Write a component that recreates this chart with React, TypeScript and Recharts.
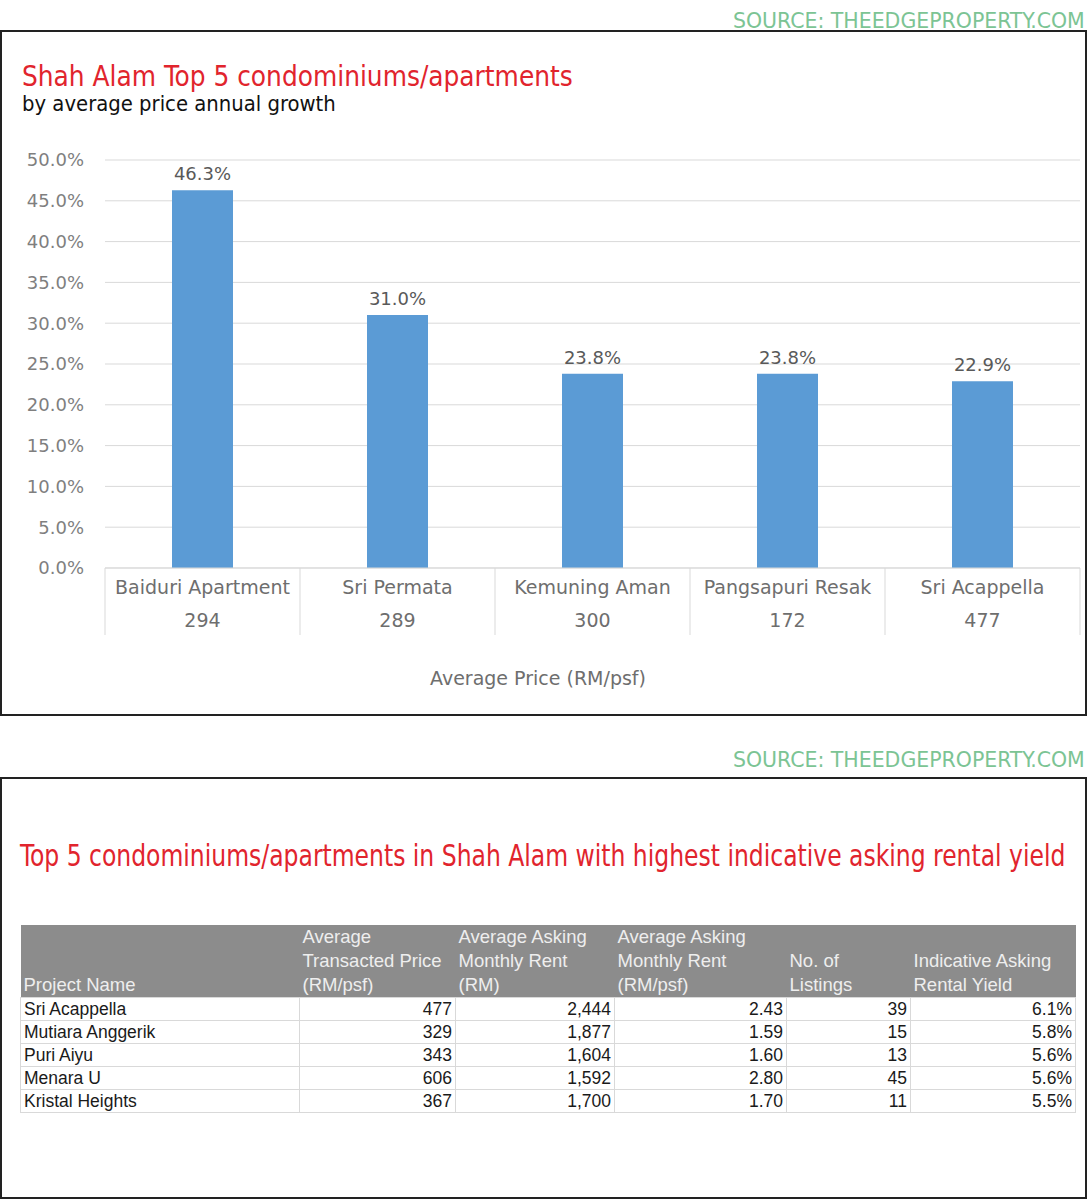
import React, { useLayoutEffect, useRef, useState } from 'react';
import {
  BarChart,
  Bar,
  XAxis,
  YAxis,
  CartesianGrid,
  LabelList,
} from 'recharts';

// chart data
const projects = ['Baiduri Apartment', 'Sri Permata', 'Kemuning Aman', 'Pangsapuri Resak', 'Sri Acappella'];
const avgPrice = [294, 289, 300, 172, 477];
const growth = [46.3, 31.0, 23.8, 23.8, 22.9];
const yTicks = [0, 5, 10, 15, 20, 25, 30, 35, 40, 45, 50];

// table data
const rentalProjects = ['Sri Acappella', 'Mutiara Anggerik', 'Puri Aiyu', 'Menara U', 'Kristal Heights'];
const transactedPsf = [477, 329, 343, 606, 367];
const askingRent = [2444, 1877, 1604, 1592, 1700];
const askingRentPsf = [2.43, 1.59, 1.6, 2.8, 1.7];
const listings = [39, 15, 13, 45, 11];
const rentalYield = [6.1, 5.8, 5.6, 5.6, 5.5];

const headers = [
  ['Project Name'],
  ['Average', 'Transacted Price', '(RM/psf)'],
  ['Average Asking', 'Monthly Rent', '(RM)'],
  ['Average Asking', 'Monthly Rent', '(RM/psf)'],
  ['No. of', 'Listings'],
  ['Indicative Asking', 'Rental Yield'],
];
const colWidths = [279, 156, 159, 172, 124, 165];

const CHART_W = 1089;
const CHART_H = 540;
const MARGIN = { top: 20, right: 9, bottom: 0, left: 0 };
const Y_AXIS_W = 105;

const chartData = projects.map((name, i) => ({ name, price: avgPrice[i], growth: growth[i] }));

const SOURCE = 'SOURCE: THEEDGEPROPERTY.COM';
const GREEN = '#7cc494';
const RED = '#e1242d';

function CategoryTick(props: any) {
  const { x, y, payload } = props;
  const fallback = (CHART_W - MARGIN.left - MARGIN.right - Y_AXIS_W) / projects.length / 2;
  const half = payload.offset || fallback;
  const idx = payload.index;
  const last = idx === projects.length - 1;
  return (
    <g>
      <line x1={x - half} x2={x - half} y1={y} y2={y + 67} stroke="#d9d9d9" />
      {last && <line x1={x + half} x2={x + half} y1={y} y2={y + 67} stroke="#d9d9d9" />}
      <text x={x} y={y + 26} textAnchor="middle" fill="#6e6e6e" fontSize={19} fontFamily="DejaVu Sans">
        {payload.value}
      </text>
      <text x={x} y={y + 59} textAnchor="middle" fill="#6e6e6e" fontSize={19} fontFamily="DejaVu Sans">
        {avgPrice[idx]}
      </text>
    </g>
  );
}

// condensed heading text, stretched horizontally to the width it has in the picture
function FitText({ x, y, w, size, color, text }: any) {
  const ref = useRef<SVGTextElement>(null);
  const [sx, setSx] = useState(1);
  useLayoutEffect(() => {
    const el = ref.current;
    if (el) {
      const n = el.getComputedTextLength();
      if (n > 0) setSx(w / n);
    }
  }, [w, text, size]);
  return (
    <text
      ref={ref}
      transform={`translate(${x},${y}) scale(${sx},1)`}
      fontSize={size}
      fill={color}
      fontFamily="'DejaVu Sans Condensed', 'Liberation Sans Narrow', 'Noto Sans', sans-serif"
    >
      {text}
    </text>
  );
}

export default function App() {
  const cellBase: React.CSSProperties = {
    border: '1px solid #d9d9d9',
    padding: '0 3px',
    height: 22,
    lineHeight: '22px',
    whiteSpace: 'nowrap',
  };

  return (
    <div
      style={{
        position: 'absolute',
        left: 0,
        top: 0,
        width: 1089,
        height: 1200,
        background: '#fff',
        fontFamily: "'Liberation Sans', Arial, sans-serif",
      }}
    >
      {/* boxes */}
      <div
        style={{
          position: 'absolute',
          left: 0,
          top: 30,
          width: 1087,
          height: 686,
          border: '2px solid #222',
          boxSizing: 'border-box',
        }}
      />
      <div
        style={{
          position: 'absolute',
          left: 0,
          top: 777,
          width: 1087,
          height: 422,
          border: '2px solid #222',
          boxSizing: 'border-box',
        }}
      />

      {/* headings */}
      <svg width={1089} height={1200} style={{ position: 'absolute', left: 0, top: 0, pointerEvents: 'none' }}>
        <FitText x={733} y={28} w={352} size={22} color={GREEN} text={SOURCE} />
        <FitText x={22} y={86} w={551} size={29} color={RED} text="Shah Alam Top 5 condominiums/apartments" />
        <FitText x={22} y={111} w={314} size={21} color="#111" text="by average price annual growth" />
        <text x={538} y={685} textAnchor="middle" fill="#6e6e6e" fontSize={19} fontFamily="DejaVu Sans">
          Average Price (RM/psf)
        </text>
        <FitText x={733} y={767} w={352} size={22} color={GREEN} text={SOURCE} />
        <FitText
          x={20}
          y={866}
          w={1046}
          size={30}
          color={RED}
          text="Top 5 condominiums/apartments in Shah Alam with highest indicative asking rental yield"
        />
      </svg>

      {/* bar chart */}
      <div style={{ position: 'absolute', left: 0, top: 140 }}>
        <BarChart width={CHART_W} height={CHART_H} data={chartData} margin={MARGIN}>
          <CartesianGrid vertical={false} stroke="#d9d9d9" />
          <XAxis
            dataKey="name"
            height={CHART_H - MARGIN.top - 408}
            axisLine={{ stroke: '#d9d9d9' }}
            tickLine={false}
            tickSize={0}
            tickMargin={0}
            interval={0}
            tick={<CategoryTick />}
          />
          <YAxis
            width={Y_AXIS_W}
            domain={[0, 50]}
            ticks={yTicks}
            axisLine={false}
            tickLine={false}
            tickMargin={15}
            tickFormatter={(v: number) => `${v.toFixed(1)}%`}
            tick={{ fill: '#7f7f7f', fontSize: 18, fontFamily: 'DejaVu Sans' }}
          />
          <Bar dataKey="growth" fill="#5b9bd5" barSize={61} isAnimationActive={false}>
            <LabelList
              dataKey="growth"
              position="top"
              offset={10}
              formatter={(v: any) => `${Number(v).toFixed(1)}%`}
              fill="#595959"
              fontSize={18}
              fontFamily="DejaVu Sans"
            />
          </Bar>
        </BarChart>
      </div>

      {/* rental yield table */}
      <table
        style={{
          position: 'absolute',
          left: 20,
          top: 925,
          width: 1055,
          borderCollapse: 'collapse',
          tableLayout: 'fixed',
          fontSize: 17.5,
          color: '#1a1a1a',
        }}
      >
        <colgroup>
          {colWidths.map((w, i) => (
            <col key={i} style={{ width: w }} />
          ))}
        </colgroup>
        <thead>
          <tr>
            {headers.map((lines, i) => (
              <th
                key={i}
                style={{
                  background: '#8c8c8c',
                  color: '#eeeeee',
                  fontWeight: 'normal',
                  fontSize: 18.5,
                  lineHeight: '24px',
                  height: 72,
                  verticalAlign: 'bottom',
                  textAlign: 'left',
                  padding: '0 3px',
                  whiteSpace: 'nowrap',
                }}
              >
                {lines.map((l, j) => (
                  <div key={j}>{l}</div>
                ))}
              </th>
            ))}
          </tr>
        </thead>
        <tbody>
          {rentalProjects.map((p, i) => (
            <tr key={p}>
              <td style={{ ...cellBase, textAlign: 'left' }}>{p}</td>
              <td style={{ ...cellBase, textAlign: 'right' }}>{transactedPsf[i]}</td>
              <td style={{ ...cellBase, textAlign: 'right' }}>{askingRent[i].toLocaleString('en-US')}</td>
              <td style={{ ...cellBase, textAlign: 'right' }}>{askingRentPsf[i].toFixed(2)}</td>
              <td style={{ ...cellBase, textAlign: 'right' }}>{listings[i]}</td>
              <td style={{ ...cellBase, textAlign: 'right' }}>{rentalYield[i].toFixed(1)}%</td>
            </tr>
          ))}
        </tbody>
      </table>
    </div>
  );
}
